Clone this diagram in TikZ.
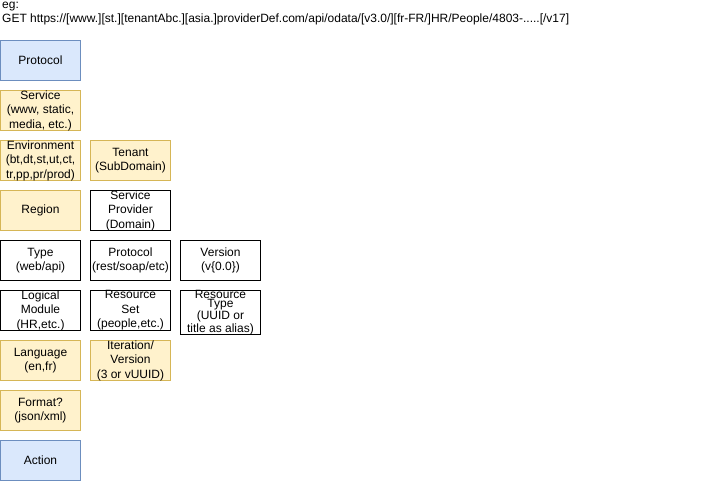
\documentclass[tikz,border=0pt]{standalone}
\usepackage{fontspec}
\setmainfont{Liberation Sans}
\begin{document}
\begin{tikzpicture}[x=1pt,y=-1pt,
  box/.style={draw=black,line width=1pt,minimum width=80pt,minimum height=40pt,inner sep=0pt,align=center,font=\fontsize{12}{14.5}\selectfont,anchor=north west},
  bluebox/.style={box,draw=blueline,fill=bluefill},
  yelbox/.style={box,draw=yelline,fill=yelfill}]
\definecolor{bluefill}{HTML}{DAE8FC}
\definecolor{blueline}{HTML}{6C8EBF}
\definecolor{yelfill}{HTML}{FFF2CC}
\definecolor{yelline}{HTML}{D6B656}
\useasboundingbox (0,0) rectangle (721,481);
\node[anchor=north west,inner sep=0pt,align=left,font=\fontsize{12}{14}\selectfont] (hdr) at (2,2) {eg:\\GET https://[www.][st.][tenantAbc.][asia.]providerDef.com/api/odata/[v3.0/][fr-FR/]HR/People/4803-.....[/v17]};
\node[bluebox] (proto) at (0,40) {Protocol};
\node[yelbox] (svc) at (0,90) {Service\\(www, static,\\media, etc.)};
\node[yelbox] (env) at (0,140) {Environment\\(bt,dt,st,ut,ct,\\tr,pp,pr/prod)};
\node[yelbox] (tenant) at (90,140) {Tenant\\(SubDomain)};
\node[yelbox] (region) at (0,190) {Region};
\node[box] (sp) at (90,190) {Service\\Provider\\(Domain)};
\node[box] (type) at (0,240) {Type\\(web/api)};
\node[box] (proto2) at (90,240) {Protocol\\(rest/soap/etc)};
\node[box] (ver) at (180,240) {Version\\(v\{0.0\})};
\node[box] (lm) at (0,290) {Logical\\Module\\(HR,etc.)};
\node[box] (rs) at (90,290) {Resource\\Set\\(people,etc.)};
\node[box,font=\fontsize{12}{9}\selectfont] (rt) at (180,290) {Resource\\Type\\(UUID or\\title as alias)};
\node[yelbox] (lang) at (0,340) {Language\\(en,fr)};
\node[yelbox] (iter) at (90,340) {Iteration/\\Version\\(3 or vUUID)};
\node[yelbox] (fmt) at (0,390) {Format?\\(json/xml)};
\node[bluebox] (act) at (0,440) {Action};
\end{tikzpicture}
\end{document}
